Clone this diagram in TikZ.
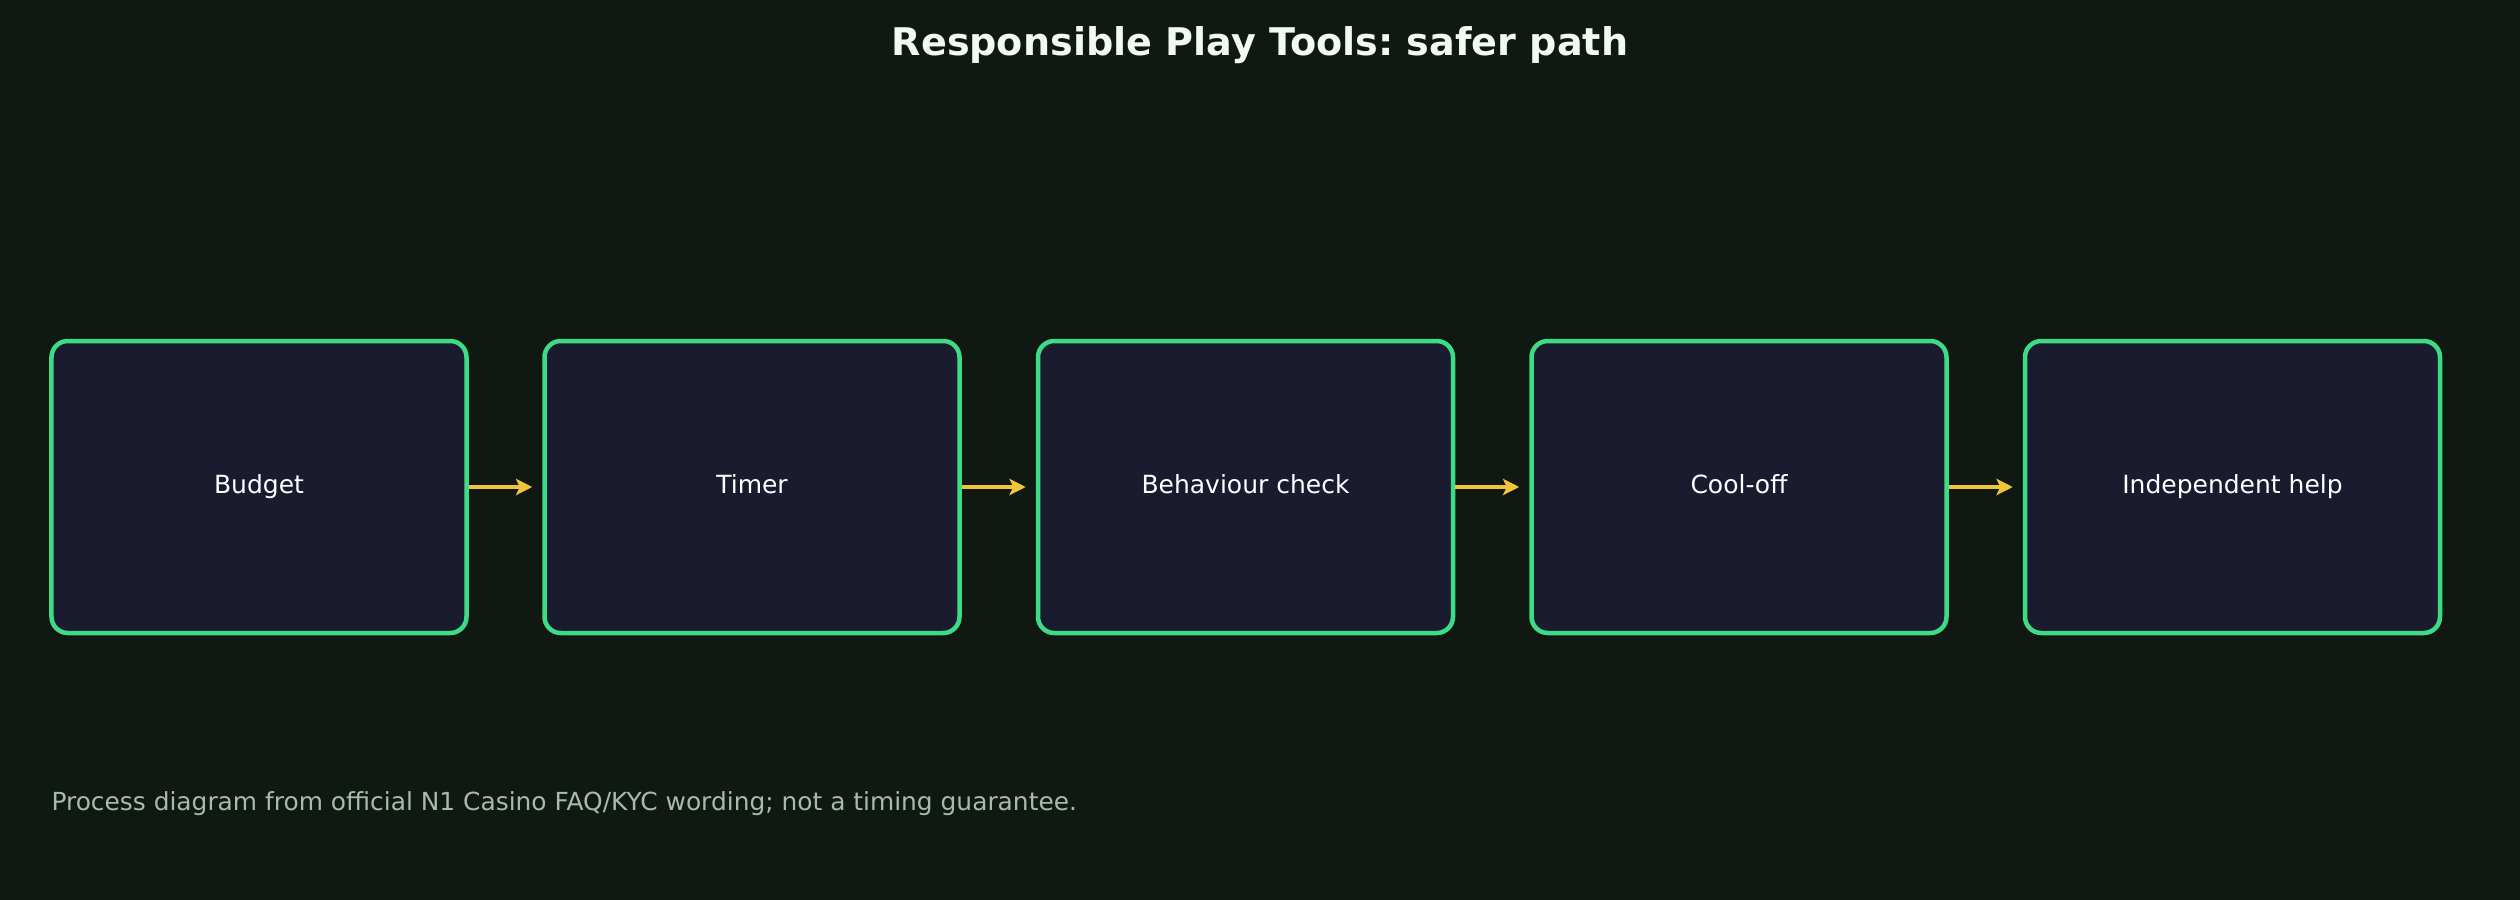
\documentclass[tikz,border=0pt]{standalone}
\usepackage{fontspec}
\setmainfont{DejaVu Sans}
\usepackage{xcolor}
\usetikzlibrary{positioning, arrows.meta}
\frenchspacing

\definecolor{bgdark}{HTML}{0F1912}
\definecolor{boxfill}{HTML}{1B1B2F}
\definecolor{boxline}{HTML}{3DDC84}
\definecolor{arrowyel}{HTML}{F0C33C}
\definecolor{notegray}{HTML}{A8BBA8}
\definecolor{titlewhite}{HTML}{F2F8F2}

\tikzset{
  stepbox/.style={draw=boxline, fill=boxfill, line width=1.8pt, rounded corners=6.5pt,
    minimum width=166pt, minimum height=116.8pt, inner sep=0pt,
    text height=0.75em, text depth=0.2em,
    text=white, font=\fontsize{10}{12}\selectfont},
  flow/.style={draw=arrowyel, line width=1.6pt, -{Stealth[length=6.5pt, width=6.5pt, inset=1.5pt]}, shorten >=4pt}
}

\begin{document}
\begin{tikzpicture}[x=0.4pt, y=-0.4pt]
  \fill[bgdark] (0,0) rectangle (2520,900);
  \useasboundingbox (0,0) rectangle (2520,900);

  \node[text=titlewhite, font=\bfseries\fontsize{15.25}{18}\selectfont] (title) at (1260,45) {Responsible Play Tools: safer path};

  \node[stepbox] (budget) at (259,487) {Budget};
  \node[stepbox] (timer) at (752,487) {Timer};
  \node[stepbox] (behaviour) at (1245.5,487) {Behaviour check};
  \node[stepbox] (cooloff) at (1739,487) {Cool-off};
  \node[stepbox] (help) at (2232.5,487) {Independent help};

  \draw[flow] (budget) -- (timer);
  \draw[flow] (timer) -- (behaviour);
  \draw[flow] (behaviour) -- (cooloff);
  \draw[flow] (cooloff) -- (help);

  % note at the bottom
  \node[anchor=west, inner sep=0pt, text=notegray, font=\fontsize{9.95}{12}\selectfont] (note) at (51,804) {Process diagram from official N1 Casino FAQ/KYC wording; not a timing guarantee.};
\end{tikzpicture}
\end{document}
